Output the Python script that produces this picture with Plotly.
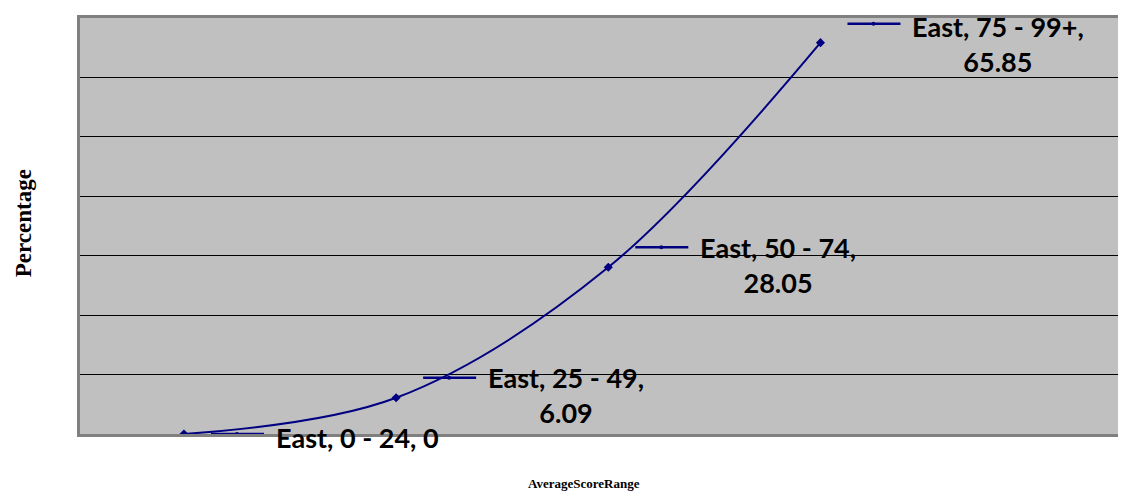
import plotly.graph_objects as go

categories = ["0 - 24", "25 - 49", "50 - 74", "75 - 99+"]
series_name = "East"
values = [0, 6.09, 28.05, 65.85]
value_labels = ["0", "6.09", "28.05", "65.85"]

LINE = "#000080"
FS = 27
LH = 1.3 * FS

fig = go.Figure()
xs = list(range(len(categories)))
fig.add_trace(go.Scatter(
    x=xs, y=values, mode="lines+markers",
    line=dict(color=LINE, width=2, shape="spline", smoothing=1.0),
    marker=dict(symbol="diamond", size=7, color=LINE),
    showlegend=False, hoverinfo="skip",
))

# label vertical offsets (pixels, up) for each legend key and data label text
key_dy = [0, 20, 20, 19]
text_dy = [0, 20, 20, 16]
annotations = []
shapes = []
for i, (c, v, lab) in enumerate(zip(categories, values, value_labels)):
    dy = key_dy[i]
    shapes.append(dict(type="line", xref="x", yref="y",
                       xsizemode="pixel", ysizemode="pixel",
                       xanchor=i, yanchor=v,
                       x0=27, x1=80, y0=dy, y1=dy,
                       line=dict(color=LINE, width=2.5)))
    shapes.append(dict(type="circle", xref="x", yref="y",
                       xsizemode="pixel", ysizemode="pixel",
                       xanchor=i, yanchor=v,
                       x0=51, x1=55, y0=dy - 2, y1=dy + 2,
                       fillcolor=LINE, line=dict(color=LINE, width=0)))
    if i == 0:
        text = f"{series_name}, {c}, {lab}"
        ysh = -3
    else:
        text = f"{series_name}, {c},<br>{lab}"
        ysh = text_dy[i] - LH / 2
    annotations.append(dict(x=i, y=v, xref="x", yref="y", text=text,
                            showarrow=False, xanchor="left", yanchor="middle",
                            xshift=90, yshift=ysh, align="center",
                            font=dict(family="Lato", size=FS, color="#000000",
                                      weight="bold")))

annotations.append(dict(text="<b>Percentage</b>", xref="paper", yref="paper",
                        x=-0.0544, y=0.507, showarrow=False, textangle=-90,
                        xanchor="center", yanchor="middle",
                        font=dict(family="Liberation Serif", size=23, color="#000000")))
annotations.append(dict(text="<b>AverageScoreRange</b>", xref="paper", yref="paper",
                        x=0.482, y=-0.12, showarrow=False,
                        xanchor="center", yanchor="middle",
                        font=dict(family="Liberation Serif", size=13, color="#000000")))

fig.update_layout(
    width=1118, height=486,
    margin=dict(l=72, r=0, t=10, b=60),
    paper_bgcolor="white", plot_bgcolor="#C0C0C0",
    annotations=annotations, shapes=shapes,
    xaxis=dict(range=[-0.49, 4.44], showgrid=False, zeroline=False,
               showticklabels=False, ticks="", showline=True, mirror=True,
               linecolor="#808080", linewidth=3),
    yaxis=dict(range=[0, 70], dtick=10, showgrid=True, gridcolor="#000000",
               gridwidth=1, zeroline=False, showticklabels=False, ticks="",
               showline=True, linecolor="#808080", linewidth=3),
)

fig.write_html("out.html")
